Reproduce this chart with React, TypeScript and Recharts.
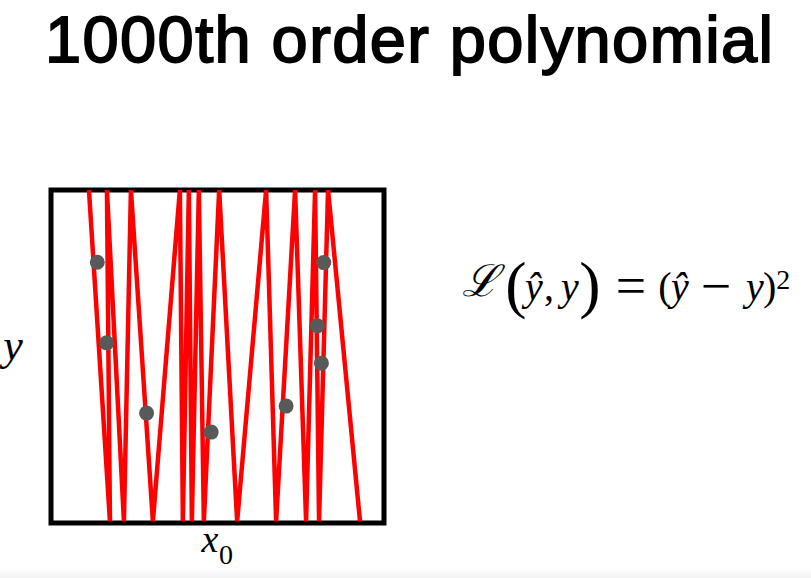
import { ComposedChart, Line, Scatter, XAxis, YAxis, ReferenceArea } from 'recharts'

// zigzag "polynomial" vertices, in data units (0..100 on both axes)
const zigX = [11.4, 17.7, 16.8, 21.9, 24.0, 30.6, 38.7, 39.6, 41.4, 42.3, 44.4, 45.9, 50.5, 55.9, 64.6, 67.6, 73.3, 76.6, 79.3, 80.5, 83.2, 92.8]
const zigY = [100, 0.5, 100, 0.5, 100, 0.5, 100, 0.5, 100, 0.5, 100, 0.5, 100, 0.5, 100, 0.5, 100, 0.5, 100, 0.5, 100, 0.5]

// observed samples
const dotX = [13.9, 16.7, 28.7, 48.1, 70.6, 80.0, 81.2, 81.9]
const dotY = [78.3, 54.1, 33.0, 27.3, 35.1, 59.2, 48.0, 78.2]

const TITLE = '1000th order polynomial'

const W = 811
const H = 578

const lineData = zigX.map((x, i) => ({ x, y: zigY[i] }))
const dotData = dotX.map((x, i) => ({ x, y: dotY[i] }))

const serif = '"Liberation Serif", "Times New Roman", serif'

function Dot(props: any) {
  return <circle cx={props.cx} cy={props.cy} r={7.5} fill="#595959" />
}

function Labels() {
  return (
    <svg width={W} height={H} style={{ position: 'absolute', left: 0, top: 0, pointerEvents: 'none' }}>
      <text x={45} y={62} fontFamily='"Liberation Sans", Arial, sans-serif'
        fontSize={65} fill="#000" stroke="#000" strokeWidth={1.8}
        textLength={728} lengthAdjust="spacing">{TITLE}</text>

      {/* axis labels */}
      <text x={13} y={360} textAnchor="middle" fontFamily={serif} fontStyle="italic" fontSize={44}>y</text>
      <text x={210} y={552} textAnchor="middle" fontFamily={serif} fontStyle="italic" fontSize={38}>x</text>
      <text x={226} y={564} textAnchor="middle" fontFamily={serif} fontSize={28}>0</text>

      {/* loss formula */}
      <g fontFamily={serif} fill="#000">
        <text x={480} y={296} textAnchor="middle" fontSize={44} fontFamily='"DejaVu Serif", serif' fontStyle="italic">ℒ</text>
        <text x={516} y={306} textAnchor="middle" fontSize={64}>(</text>
        <text x={534} y={300} textAnchor="middle" fontSize={40} fontStyle="italic">ŷ</text>
        <text x={549} y={300} textAnchor="middle" fontSize={40}>,</text>
        <text x={570} y={300} textAnchor="middle" fontSize={40} fontStyle="italic">y</text>
        <text x={590} y={306} textAnchor="middle" fontSize={64}>)</text>
        <text x={631} y={304} textAnchor="middle" fontSize={54}>=</text>
        <text x={665} y={300} textAnchor="middle" fontSize={40}>(</text>
        <text x={680} y={300} textAnchor="middle" fontSize={40} fontStyle="italic">ŷ</text>
        <text x={716} y={304} textAnchor="middle" fontSize={54}>−</text>
        <text x={755} y={300} textAnchor="middle" fontSize={40} fontStyle="italic">y</text>
        <text x={763} y={300} fontSize={40}>)<tspan dy={-11} fontSize={28}>2</tspan></text>
      </g>
    </svg>
  )
}

export default function App() {
  return (
    <div style={{ position: 'absolute', left: 0, top: 0, width: W, height: H, background: '#fff' }}>
      <div style={{ position: 'absolute', left: 0, bottom: 0, width: W, height: 10,
        background: 'linear-gradient(#ffffff, #f3f3f3)' }} />
      <ComposedChart width={W} height={H} margin={{ top: 190, right: 427, bottom: 55, left: 51 }}>
        <XAxis type="number" dataKey="x" domain={[0, 100]} hide allowDataOverflow />
        <YAxis type="number" dataKey="y" domain={[0, 100]} hide allowDataOverflow />
        <Line data={lineData} dataKey="y" stroke="#ff0000" strokeWidth={4.5} dot={false}
          activeDot={false} isAnimationActive={false} />
        <Scatter data={dotData} dataKey="y" shape={Dot} isAnimationActive={false} />
        <ReferenceArea x1={0} x2={100} y1={0} y2={100} fill="none" stroke="#000" strokeWidth={5}
          ifOverflow="visible" />
      </ComposedChart>
      <Labels />
    </div>
  )
}
